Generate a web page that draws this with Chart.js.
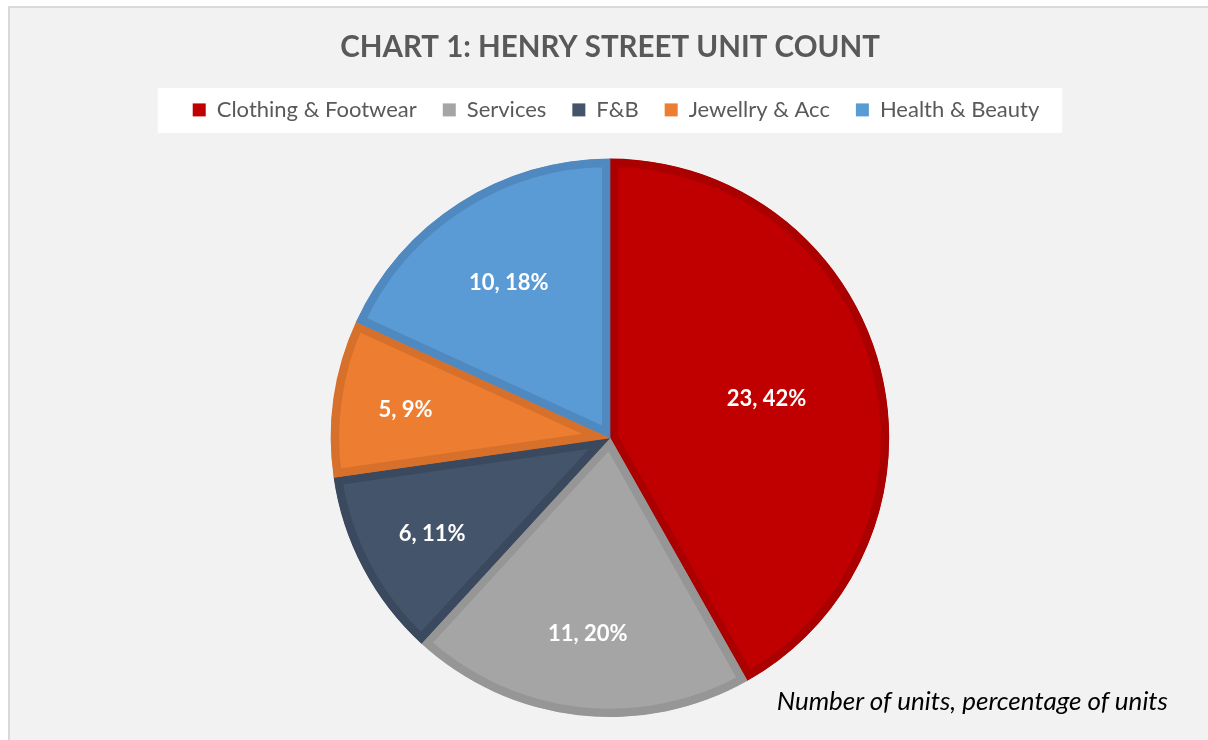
<!DOCTYPE html>
<html>
<head>
<meta charset="utf-8">
<script src="https://cdn.jsdelivr.net/npm/chart.js@4"></script>
<style>
  html, body { margin: 0; padding: 0; background: #ffffff; }
  body { width: 1208px; height: 740px; position: relative; overflow: hidden; }
  #frame {
    position: absolute; left: 8px; top: 6px; width: 1220px; height: 760px;
    background: #f2f2f2; border: 2px solid #d9d9d9;
  }
  #wrap { position: absolute; left: 0; top: 0; width: 1208px; height: 740px; }
  #note {
    position: absolute; right: 40px; top: 684px; line-height: 30px;
    font: italic 26px Lato, sans-serif; color: #000;
  }
</style>
</head>
<body>
<div id="frame"></div>
<div id="wrap"><canvas id="pie-chart" width="1208" height="740"></canvas></div>
<div id="note">Number of units, percentage of units</div>
<script>
const categories = ["Clothing & Footwear", "Services", "F&B", "Jewellry & Acc", "Health & Beauty"];
const units = [23, 11, 6, 5, 10];

const fillColors = ["#c00000", "#a5a5a5", "#44546a", "#ed7d31", "#5b9bd5"];
const edgeColors = ["#ab0000", "#969696", "#3a495d", "#d6702b", "#5089c0"];

// how far out from the centre each label sits (fraction of the radius)
const labelRadius = [0.58, 0.70, 0.72, 0.74, 0.67];

const total = units.reduce((a, b) => a + b, 0);

// nudge the legend a little to the right, like the original
const legendShift = {
  id: "legendShift",
  afterLayout(chart) {
    const lg = chart.legend;
    if (!lg) return;
    lg.left += 6;
    lg.right += 6;
    lg.legendHitBoxes.forEach(b => { b.left += 6; });
  }
};

const legendBox = {
  id: "legendBox",
  beforeDraw(chart) {
    const lg = chart.legend;
    if (!lg || !lg.legendHitBoxes.length) return;
    const boxes = lg.legendHitBoxes;
    const left = Math.min(...boxes.map(b => b.left)) - 35;
    const right = Math.max(...boxes.map(b => b.left + b.width)) + 23;
    const mid = boxes[0].top + boxes[0].height / 2;
    const ctx = chart.ctx;
    ctx.save();
    ctx.fillStyle = "#ffffff";
    ctx.fillRect(left, mid - 22, right - left, 45);
    ctx.restore();
  }
};

const sliceLabels = {
  id: "sliceLabels",
  afterDatasetsDraw(chart) {
    const ctx = chart.ctx;
    const meta = chart.getDatasetMeta(0);
    ctx.save();
    ctx.fillStyle = "#ffffff";
    ctx.font = "bold 22px Lato, sans-serif";
    ctx.textAlign = "center";
    ctx.textBaseline = "middle";
    meta.data.forEach((arc, i) => {
      const p = arc.getProps(["x", "y", "startAngle", "endAngle", "outerRadius"], true);
      const a = (p.startAngle + p.endAngle) / 2;
      const r = p.outerRadius * labelRadius[i];
      const pct = Math.round(units[i] / total * 100);
      ctx.fillText(units[i] + ", " + pct + "%", p.x + Math.cos(a) * r, p.y + Math.sin(a) * r + 2);
    });
    ctx.restore();
  }
};

new Chart(document.getElementById("pie-chart"), {
  type: "pie",
  data: {
    labels: categories,
    datasets: [
      {
        data: units,
        backgroundColor: fillColors,
        borderColor: edgeColors,
        borderWidth: 8,
        borderAlign: "inner",
        hoverOffset: 0,
        hoverBorderWidth: 8,
      },
    ],
  },
  options: {
    responsive: false,
    animation: false,
    events: [],
    layout: { padding: { left: 12, right: 0, top: 0, bottom: 23 } },
    plugins: {
      tooltip: { enabled: false },
      title: {
        display: true,
        text: "CHART 1: HENRY STREET UNIT COUNT",
        color: "#595959",
        font: { family: "Lato", size: 29.5, weight: "bold" },
        padding: { top: 29.5, bottom: 8 },
      },
      // empty subtitle used as a spacer between the legend and the pie
      subtitle: {
        display: true,
        text: "",
        font: { size: 1 },
        padding: { top: 0, bottom: 26.5 },
      },
      legend: {
        position: "top",
        weight: 1800,
        labels: {
          color: "#595959",
          font: { family: "Lato", size: 22 },
          boxWidth: 13,
          boxHeight: 13,
          padding: 26,
          generateLabels(chart) {
            return Chart.controllers.pie.overrides.plugins.legend.labels
              .generateLabels(chart)
              .map(item => ({ ...item, lineWidth: 0, strokeStyle: item.fillStyle }));
          },
        },
      },
    },
  },
  plugins: [legendShift, legendBox, sliceLabels],
});
</script>
</body>
</html>
